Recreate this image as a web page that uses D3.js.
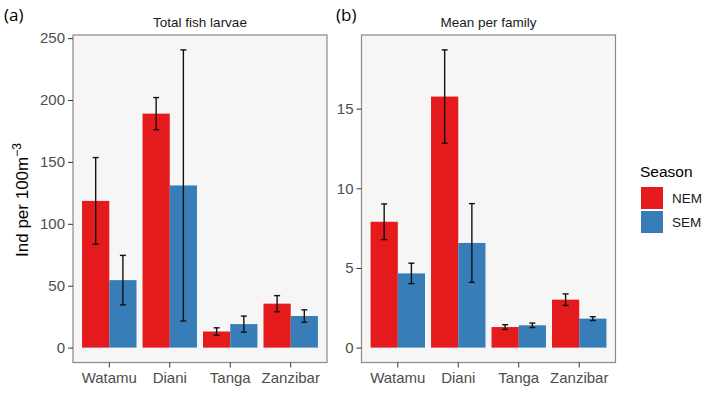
<!DOCTYPE html>
<html>
<head>
<meta charset="utf-8">
<script src="https://cdn.jsdelivr.net/npm/d3@7"></script>
<style>
  body { margin: 0; background: #fff; }
  svg { font-family: "Liberation Sans", Arial, sans-serif; }
</style>
</head>
<body>
<svg class="chart" width="708" height="399"></svg>
<script>
// data
var sites = ["Watamu", "Diani", "Tanga", "Zanzibar"];
var seasons = ["NEM", "SEM"];
var colors = ["#e41a1c", "#377eb8"];

var totalNEM = [118.5, 189, 13, 35.5];
var totalNEMerr = [35, 13, 3, 6.5];
var totalSEM = [54.5, 131, 19, 25.5];
var totalSEMerr = [20, 109.5, 6.5, 5];

var familyNEM = [7.9, 15.76, 1.29, 3.01];
var familyNEMerr = [1.12, 2.93, 0.15, 0.36];
var familySEM = [4.66, 6.57, 1.4, 1.82];
var familySEMerr = [0.64, 2.47, 0.14, 0.12];

var yTicksA = [0, 50, 100, 150, 200, 250];
var yTicksB = [0, 5, 10, 15];

var svg = d3.select(".chart");

function rows(nem, nemErr, sem, semErr) {
  var out = [];
  sites.forEach(function(s, i) {
    out.push({ site: s, season: "NEM", v: nem[i], e: nemErr[i] });
    out.push({ site: s, season: "SEM", v: sem[i], e: semErr[i] });
  });
  return out;
}

function panel(opt) {
  var data = opt.data;
  var maxV = d3.max(data, function(d) { return d.v + d.e; });
  var pad = maxV * 0.05;

  var x = d3.scaleBand().domain(sites).range([opt.left, opt.right])
      .paddingInner(0.1).paddingOuter(0.15);
  var x1 = d3.scaleBand().domain(seasons).range([0, x.bandwidth()]);
  var y = d3.scaleLinear().domain([-pad, maxV + pad]).range([opt.bottom, opt.top]);
  var color = d3.scaleOrdinal().domain(seasons).range(colors);

  var g = svg.append("g");

  g.append("rect")
      .attr("x", opt.left).attr("y", opt.top)
      .attr("width", opt.right - opt.left).attr("height", opt.bottom - opt.top)
      .attr("fill", "#f6f6f6");

  g.selectAll(".bar").data(data).enter().append("rect")
      .attr("x", function(d) { return x(d.site) + x1(d.season); })
      .attr("y", function(d) { return y(d.v); })
      .attr("width", x1.bandwidth())
      .attr("height", function(d) { return y(0) - y(d.v); })
      .attr("fill", function(d) { return color(d.season); });

  var eb = g.selectAll(".err").data(data).enter().append("g")
      .attr("stroke", "#111").attr("stroke-width", 1.4);
  var cx = function(d) { return x(d.site) + x1(d.season) + x1.bandwidth() / 2; };
  eb.append("line")
      .attr("x1", cx).attr("x2", cx)
      .attr("y1", function(d) { return y(d.v - d.e); })
      .attr("y2", function(d) { return y(d.v + d.e); });
  [1, -1].forEach(function(sgn) {
    eb.append("line")
        .attr("x1", function(d) { return cx(d) - 3; })
        .attr("x2", function(d) { return cx(d) + 3; })
        .attr("y1", function(d) { return y(d.v + sgn * d.e); })
        .attr("y2", function(d) { return y(d.v + sgn * d.e); });
  });

  g.append("rect")
      .attr("x", opt.left).attr("y", opt.top)
      .attr("width", opt.right - opt.left).attr("height", opt.bottom - opt.top)
      .attr("fill", "none").attr("stroke", "#8a8a8a").attr("stroke-width", 1.2);

  var ya = g.append("g").attr("transform", "translate(" + opt.left + ",0)")
      .call(d3.axisLeft(y).tickValues(opt.ticks).tickSize(5).tickPadding(3));
  ya.select(".domain").remove();
  ya.selectAll("line").attr("stroke", "#333");
  ya.selectAll("text").attr("fill", "#4d4d4d").style("font-size", "15px");

  var xa = g.append("g").attr("transform", "translate(0," + opt.bottom + ")")
      .call(d3.axisBottom(x).tickSize(5).tickPadding(5));
  xa.select(".domain").remove();
  xa.selectAll("line").attr("stroke", "#333");
  xa.selectAll("text").attr("fill", "#4d4d4d").style("font-size", "15px");

  svg.append("text")
      .attr("x", (opt.left + opt.right) / 2).attr("y", opt.top - 8)
      .attr("text-anchor", "middle").style("font-size", "13.5px").attr("fill", "#1a1a1a")
      .text(opt.title);

  svg.append("text")
      .attr("x", opt.tagX).attr("y", 21)
      .style("font-family", "'Open Sans', sans-serif").style("font-size", "17px")
      .attr("fill", "#000").text(opt.tag);
}

panel({ data: rows(totalNEM, totalNEMerr, totalSEM, totalSEMerr),
  left: 73, right: 327, top: 35, bottom: 362.5, ticks: yTicksA,
  title: "Total fish larvae", tag: "(a)", tagX: 4 });

panel({ data: rows(familyNEM, familyNEMerr, familySEM, familySEMerr),
  left: 361.5, right: 615.5, top: 35, bottom: 362.5, ticks: yTicksB,
  title: "Mean per family", tag: "(b)", tagX: 336 });

// y axis title
var yl = svg.append("text")
    .attr("transform", "translate(28,200) rotate(-90)")
    .attr("text-anchor", "middle").style("font-size", "17px").attr("fill", "#000");
yl.append("tspan").text("Ind per 100m");
yl.append("tspan").attr("dy", -7).style("font-size", "12px").text("\u22123");

// legend
var leg = svg.append("g").attr("transform", "translate(640,0)");
leg.append("text").attr("x", 0).attr("y", 177)
    .style("font-size", "15.5px").attr("fill", "#000").text("Season");
seasons.forEach(function(s, i) {
  leg.append("rect").attr("x", 1).attr("y", 187 + i * 24)
      .attr("width", 22).attr("height", 22).attr("fill", colors[i]);
  leg.append("text").attr("x", 32).attr("y", 198 + i * 24).attr("dy", "0.35em")
      .style("font-size", "13.5px").attr("fill", "#1a1a1a").text(s);
});
</script>
</body>
</html>
